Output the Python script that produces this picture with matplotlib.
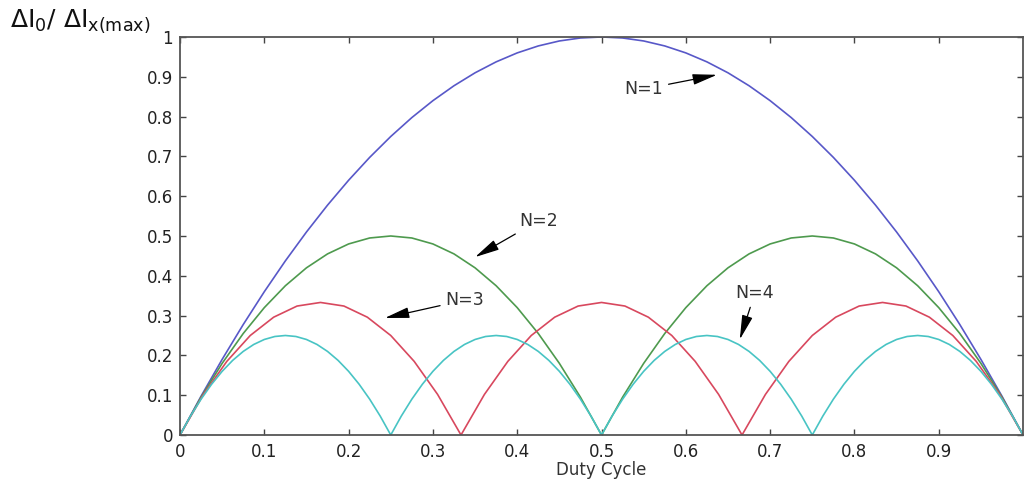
import matplotlib
matplotlib.use("Agg")
import matplotlib.pyplot as plt
import numpy as np

# ripple ratio, one list per phase count N
n1 = [0, 0.0975, 0.19, 0.2775, 0.36, 0.4375, 0.51, 0.5775, 0.64, 0.6975, 0.75,
      0.7975, 0.84, 0.8775, 0.91, 0.9375, 0.96, 0.9775, 0.99, 0.9975, 1.0,
      0.9975, 0.99, 0.9775, 0.96, 0.9375, 0.91, 0.8775, 0.84, 0.7975, 0.75,
      0.6975, 0.64, 0.5775, 0.51, 0.4375, 0.36, 0.2775, 0.19, 0.0975, 0]
n2 = [0, 0.095, 0.18, 0.255, 0.32, 0.375, 0.42, 0.455, 0.48, 0.495, 0.5,
      0.495, 0.48, 0.455, 0.42, 0.375, 0.32, 0.255, 0.18, 0.095, 0,
      0.095, 0.18, 0.255, 0.32, 0.375, 0.42, 0.455, 0.48, 0.495, 0.5,
      0.495, 0.48, 0.455, 0.42, 0.375, 0.32, 0.255, 0.18, 0.095, 0]
n3 = [0, 0.102, 0.185, 0.25, 0.296, 0.324, 0.333, 0.324, 0.296, 0.25, 0.185, 0.102, 0,
      0.102, 0.185, 0.25, 0.296, 0.324, 0.333, 0.324, 0.296, 0.25, 0.185, 0.102, 0,
      0.102, 0.185, 0.25, 0.296, 0.324, 0.333, 0.324, 0.296, 0.25, 0.185, 0.102, 0]
n4 = [0, 0.0475, 0.09, 0.1275, 0.16, 0.1875, 0.21, 0.2275, 0.24, 0.2475, 0.25,
      0.2475, 0.24, 0.2275, 0.21, 0.1875, 0.16, 0.1275, 0.09, 0.0475, 0,
      0.0475, 0.09, 0.1275, 0.16, 0.1875, 0.21, 0.2275, 0.24, 0.2475, 0.25,
      0.2475, 0.24, 0.2275, 0.21, 0.1875, 0.16, 0.1275, 0.09, 0.0475, 0,
      0.0475, 0.09, 0.1275, 0.16, 0.1875, 0.21, 0.2275, 0.24, 0.2475, 0.25,
      0.2475, 0.24, 0.2275, 0.21, 0.1875, 0.16, 0.1275, 0.09, 0.0475, 0,
      0.0475, 0.09, 0.1275, 0.16, 0.1875, 0.21, 0.2275, 0.24, 0.2475, 0.25,
      0.2475, 0.24, 0.2275, 0.21, 0.1875, 0.16, 0.1275, 0.09, 0.0475, 0]

d1 = np.linspace(0, 1, len(n1))
d2 = np.linspace(0, 1, len(n2))
d3 = np.linspace(0, 1, len(n3))
d4 = np.linspace(0, 1, len(n4))

xticks = [0, 0.1, 0.2, 0.3, 0.4, 0.5, 0.6, 0.7, 0.8, 0.9]
xticklabels = ['0', '0.1', '0.2', '0.3', '0.4', '0.5', '0.6', '0.7', '0.8', '0.9']
yticks = [0, 0.1, 0.2, 0.3, 0.4, 0.5, 0.6, 0.7, 0.8, 0.9, 1]
yticklabels = ['0', '0.1', '0.2', '0.3', '0.4', '0.5', '0.6', '0.7', '0.8', '0.9', '1']

# label text, text position, arrow head
notes = [('N=1', (0.550, 0.869), (0.637, 0.905)),
         ('N=2', (0.425, 0.538), (0.350, 0.447)),
         ('N=3', (0.338, 0.339), (0.243, 0.294)),
         ('N=4', (0.682, 0.357), (0.664, 0.240))]

plt.rcParams['font.family'] = ['DejaVu Sans']
plt.rcParams['mathtext.fontset'] = 'dejavusans'

fig = plt.figure(figsize=(10.25, 4.8), dpi=100)
ax = fig.add_axes([0.1756, 0.09375, 0.8225, 0.8292])

ax.plot(d1, n1, color='#5858c8', lw=1.2)
ax.plot(d2, n2, color='#4e9a4e', lw=1.2)
ax.plot(d3, n3, color='#d8485e', lw=1.2)
ax.plot(d4, n4, color='#48c4c4', lw=1.2)

for txt, pos, head in notes:
    ax.annotate(txt, xy=head, xytext=pos, ha='center', va='center',
                fontsize=12.5, color='#333333',
                arrowprops=dict(arrowstyle='-|>,head_length=1.0,head_width=0.22',
                                color='black', lw=0.9, mutation_scale=15,
                                shrinkA=2, shrinkB=0))

ax.set_xlim(0, 1)
ax.set_ylim(0, 1)
ax.set_xticks(xticks)
ax.set_xticklabels(xticklabels)
ax.set_yticks(yticks)
ax.set_yticklabels(yticklabels)
ax.tick_params(direction='in', top=True, right=True, length=4, width=1,
               color='#444444', labelsize=12, labelcolor='#222222')
ax.tick_params(axis='x', pad=6)
ax.tick_params(axis='y', pad=5)
for s in ax.spines.values():
    s.set_color('#555555')
    s.set_linewidth(1.3)

ax.set_xlabel('Duty Cycle', fontsize=12, color='#333333', labelpad=0)
fig.text(10 / 1025, 0.944, r'$\Delta\mathrm{I}_{\mathrm{0}}/\ \Delta\mathrm{I}_{\mathrm{x(max)}}$',
         fontsize=18, color='#111111', ha='left', va='baseline')

fig.savefig('out.png', dpi=100)
